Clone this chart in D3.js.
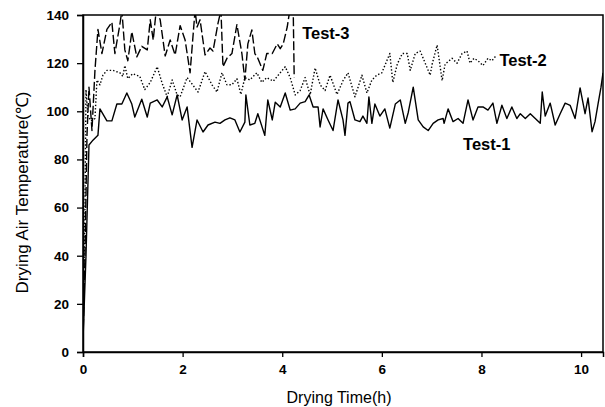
<!DOCTYPE html>
<html><head><meta charset="utf-8">
<script src="https://cdn.jsdelivr.net/npm/d3@7"></script>
<style>
html,body{margin:0;padding:0;background:#fff;}
svg text{font-family:"Liberation Sans",Arial,sans-serif;fill:#000;}
</style></head>
<body>
<svg id="chart" width="605" height="407"></svg>
<script>
// ---- data (time in hours, temperature in °C) ----
const xTicks = [0, 2, 4, 6, 8, 10];
const yTicks = [0, 20, 40, 60, 80, 100, 120, 140];
const seriesNames = ["Test-1", "Test-2", "Test-3"];

const test1Time = [0,0.06,0.12,0.20,0.30,0.34,0.48,0.58,0.68,0.78,0.88,0.98,1.04,1.18,1.29,1.35,1.49,1.59,1.69,1.79,1.89,1.99,2.09,2.19,2.29,2.41,2.51,2.65,2.75,2.85,2.95,3.05,3.15,3.25,3.27,3.35,3.45,3.51,3.65,3.71,3.80,3.86,3.96,4.06,4.16,4.26,4.36,4.46,4.54,4.62,4.72,4.76,4.82,4.92,5.02,5.12,5.22,5.26,5.32,5.36,5.46,5.56,5.62,5.70,5.74,5.80,5.86,5.96,6.06,6.16,6.27,6.37,6.47,6.53,6.63,6.73,6.83,6.93,7.03,7.13,7.23,7.25,7.33,7.43,7.53,7.63,7.73,7.83,7.93,8.03,8.13,8.23,8.31,8.41,8.51,8.61,8.71,8.78,8.88,8.98,9.08,9.18,9.22,9.28,9.38,9.48,9.58,9.68,9.78,9.88,9.98,10.08,10.14,10.22,10.28,10.34,10.40,10.44];
const test1Temp = [5,40,86,88,90,101,96,96,103,103,107.6,103,97.6,105,97.6,103.4,104.7,101.8,106,98.5,106.8,96.4,101.8,85,96.4,91.4,94.3,95.5,95,96.4,97.3,96.4,91.4,95.5,106.8,94.3,95,99,90,104.7,96.4,103.8,101.8,107.6,100.5,101,103.4,104,106.8,101.8,101.8,93.5,101,96.4,92,104.7,96.4,90,103.4,104,96.4,95.7,98,95,106,95,103,98,101,93,103,104.7,95,99.5,110,96.4,93.5,92,95,96.4,97,95,101,95.7,97,95,104.7,96.4,101.8,101.8,100.5,103.4,95,102.5,97,101.8,97,99,97,99,97,95,108,98,103.4,94.3,99,103.4,102.5,97,109.7,99,105.5,91.5,95.7,103,110,116];

const test2Time = [0,0.04,0.06,0.10,0.16,0.24,0.28,0.34,0.40,0.48,0.60,0.74,0.80,0.84,0.90,1.00,1.14,1.24,1.35,1.49,1.59,1.69,1.79,1.89,1.95,2.09,2.21,2.31,2.45,2.59,2.69,2.79,2.89,2.99,3.09,3.17,3.25,3.35,3.49,3.59,3.69,3.82,3.96,4.06,4.16,4.26,4.36,4.46,4.56,4.66,4.76,4.86,4.96,5.10,5.22,5.32,5.46,5.60,5.70,5.80,5.90,6.00,6.06,6.16,6.22,6.31,6.41,6.51,6.57,6.67,6.77,6.87,6.97,7.01,7.11,7.21,7.27,7.41,7.51,7.61,7.71,7.77,7.85,7.93,8.03,8.13,8.21,8.29];
const test2Temp = [8,60,109,98,96,97,113,111,115,117,117,116,114.5,119,113.6,115.6,114.5,109,112,118.5,111.6,106,113,106.8,106,114,110.8,108,116.5,111,108,116,111,111,113.5,107,114,113,116,112,114,112.5,116,118.5,114,106.8,108.6,114,106.8,118,111,108.6,115,107,112.7,116,106,115,107.6,113,115,116,119,124,112,119.6,124,124,117,124,125,120,115,119.6,127.5,112.7,119.6,122,120,124,125,120,122,121,119,122,121,123];

const test3Time = [0,0.04,0.08,0.12,0.18,0.24,0.30,0.38,0.48,0.58,0.64,0.74,0.78,0.84,0.90,0.98,1.08,1.18,1.29,1.35,1.41,1.47,1.55,1.65,1.75,1.85,1.95,2.05,2.15,2.25,2.29,2.35,2.45,2.55,2.61,2.71,2.77,2.81,2.89,2.99,3.09,3.19,3.25,3.31,3.39,3.45,3.51,3.61,3.69,3.80,3.90,3.96,4.02,4.10,4.16,4.22,4.24];
const test3Temp = [5,40,90,110,92,117,134,124,134,137,124,136,142,125.5,121,133,122.6,127,125.5,138,129.6,142,138,123,129.6,123.4,135.6,129.6,116,142,135,138,123.4,126.3,125,136.5,142,118.5,122,124,136,124,113,128,133.8,124,122,117,124,124,128,126,128,135,143,143,114];

// ---- layout ----
const svg = d3.select("#chart");
const L = 83, R = 603, T = 15, B = 352;
const x = d3.scaleLinear().domain([0, 10.44]).range([L, R]);
const y = d3.scaleLinear().domain([0, 140]).range([B, T]);

svg.append("defs").append("clipPath").attr("id", "plotclip")
  .append("rect").attr("x", L).attr("y", T).attr("width", R - L).attr("height", B - T);

const series = [
  {name: seriesNames[0], t: test1Time, v: test1Temp, dash: null, w: 1.4},
  {name: seriesNames[1], t: test2Time, v: test2Temp, dash: "1.4,2", w: 1.4},
  {name: seriesNames[2], t: test3Time, v: test3Temp, dash: "9,3", w: 1.4}
];

const line = d3.line().x(d => x(d[0])).y(d => y(d[1]));
const g = svg.append("g").attr("clip-path", "url(#plotclip)");
series.forEach(s => {
  const pts = s.t.map((t, i) => [t, s.v[i]]);
  g.append("path").datum(pts)
    .attr("d", line)
    .attr("fill", "none")
    .attr("stroke", "#000")
    .attr("stroke-width", s.w)
    .attr("stroke-linejoin", "round")
    .attr("stroke-dasharray", s.dash);
});

// frame
svg.append("rect").attr("x", L).attr("y", T).attr("width", R - L).attr("height", B - T)
  .attr("fill", "none").attr("stroke", "#000").attr("stroke-width", 1.5);

// axes
const xAxis = svg.append("g").attr("transform", `translate(0,${B})`)
  .call(d3.axisBottom(x).tickValues(xTicks).tickSize(5).tickPadding(7).tickFormat(d3.format("d")));
const yAxis = svg.append("g").attr("transform", `translate(${L},0)`)
  .call(d3.axisLeft(y).tickValues(yTicks).tickSize(6).tickPadding(8).tickFormat(d3.format("d")));
[xAxis, yAxis].forEach(a => {
  a.select(".domain").attr("stroke", "#000").attr("stroke-width", 1.5);
  a.selectAll(".tick line").attr("stroke", "#000").attr("stroke-width", 1.3);
  a.selectAll(".tick text").attr("font-size", 13.5).attr("font-weight", "bold")
    .attr("font-family", "Liberation Sans, Arial, sans-serif").attr("fill", "#000");
});

// axis titles
svg.append("text").attr("x", (L + R) / 2 - 4).attr("y", 403)
  .attr("text-anchor", "middle").attr("font-size", 16).text("Drying Time(h)");
svg.append("text").attr("transform", `translate(28,${(T + B) / 2 + 9}) rotate(-90)`)
  .attr("text-anchor", "middle").attr("font-size", 17).text("Drying Air Temperature(℃)");

// series labels
const labels = [
  {text: seriesNames[2], t: 4.4, v: 130},
  {text: seriesNames[1], t: 8.36, v: 119},
  {text: seriesNames[0], t: 7.63, v: 84}
];
svg.selectAll(".slabel").data(labels).enter().append("text")
  .attr("class", "slabel")
  .attr("x", d => x(d.t)).attr("y", d => y(d.v))
  .attr("font-size", 16.5).attr("font-weight", "bold")
  .text(d => d.text);
</script>
</body></html>
